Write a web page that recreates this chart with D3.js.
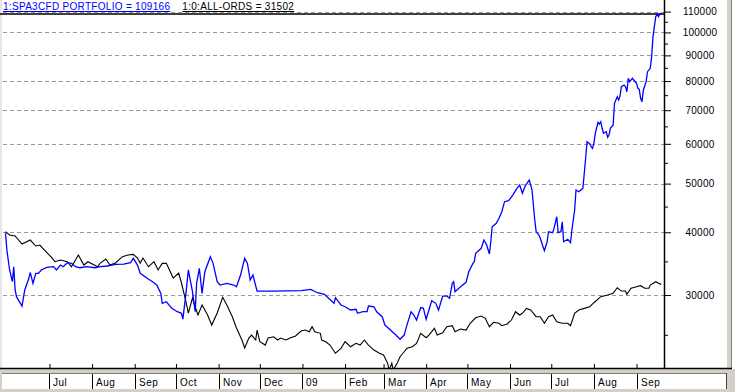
<!DOCTYPE html>
<html>
<head>
<meta charset="utf-8">
<script src="https://cdn.jsdelivr.net/npm/d3@7"></script>
<style>
  html, body { margin: 0; padding: 0; background: #ffffff; }
  svg { display: block; }
  text { font-family: "Liberation Sans", Arial, sans-serif; }
</style>
</head>
<body>
<div id="chart"></div>
<script>
// ---------------- DATA ----------------
// Days are offsets (calendar days) from 1 July 2008
const baseDate = new Date(2008, 6, 1);

const seriesNames = ["1:SPA3CFD PORTFOLIO", "1:0:ALL-ORDS"];
const lastValues = [109166, 31502];

const portfolioDays = [-32,-31,-29,-27,-26,-25,-24,-20,-18,-15,-14,-12,-10,-8,-6,-2,3,5,8,10,13,16,19,22,27,33,37,42,48,54,59,61,64,66,71,75,78,81,82,85,89,93,96,97,99,101,104,106,107,109,111,113,117,119,122,124,129,134,136,139,142,144,146,148,151,163,183,190,195,200,203,207,208,212,215,219,223,224,228,231,232,236,238,242,244,248,252,255,258,260,263,265,267,270,272,274,276,278,281,283,286,289,291,293,294,295,299,303,305,308,309,310,314,316,318,320,321,322,325,327,329,331,334,337,340,342,344,346,349,351,353,354,356,357,359,360,362,363,366,367,369,370,372,373,374,377,379,380,382,383,385,388,389,390,391,393,394,395,396,397,399,400,401,402,403,405,406,407,408,410,411,413,414,415,416,418,419,420,421,422,424,425,427,428,429,430,431,432,434,435,437,438,439,441,442,443,444,445];
const portfolioValues = [39810,36870,33650,31890,34160,30700,29770,28520,30700,32390,33290,31650,33140,33140,33650,34060,34160,33650,34420,34160,34790,34690,34160,34000,34160,34000,34160,34270,34530,34580,34790,35500,34420,33140,32390,31890,31410,30230,28880,29090,28220,27790,27590,26870,29770,33650,30460,27790,31650,33910,30230,33380,35760,34690,31890,31410,31650,31410,31160,32880,35500,34690,32140,32880,30550,30550,30600,30790,30320,30100,29550,28880,29630,28660,28430,28010,28100,27590,27790,27790,28520,28430,27790,27160,26140,25550,24970,24490,24970,26140,27790,27370,26750,28330,28220,26840,28010,29230,28880,28010,29860,29860,29550,31650,31890,30460,31160,31800,33380,34690,34950,36320,37160,38600,37730,36200,38300,41030,41680,42640,43950,46020,46230,47450,48930,49680,47820,49450,50830,48550,42310,40100,39500,38910,37440,36760,38300,40100,39920,40730,42960,39920,40100,41980,38300,38730,38130,40420,44300,48550,48170,48930,52420,56150,60590,59950,59220,58780,60140,62970,66220,65710,66410,64430,62970,63430,61830,62480,64430,65410,72250,74470,73350,74710,77970,78580,77970,76190,81030,79770,81030,80400,79190,77390,77040,73930,72790,76790,79770,83510,84830,89460,98060,107470,108810,107470,108700,109166];

const allOrdsDays = [-32,-29,-25,-20,-14,-10,-7,-5,1,4,8,13,16,21,25,28,35,37,41,44,48,53,57,61,64,66,68,72,76,79,82,85,90,94,96,99,101,104,106,108,111,115,118,122,126,129,133,136,140,142,145,147,150,151,153,157,159,163,166,168,172,175,179,183,186,189,191,193,197,198,201,204,208,212,215,219,223,226,229,232,236,240,243,246,247,249,250,253,255,258,260,264,267,270,274,276,280,282,286,289,293,295,299,303,306,310,314,317,320,323,327,329,333,336,339,342,344,347,350,354,357,360,363,366,369,373,377,379,382,385,389,393,396,401,406,410,413,416,419,420,423,427,430,433,436,437,441,443,445];
const allOrdsValues = [40100,39500,39320,37900,38600,37560,37730,37200,35760,34950,35220,34950,34160,36040,34420,34950,34160,34740,35380,34420,34740,35760,36040,36150,35550,34740,35550,34160,34950,33650,34690,34690,32430,33180,31700,29320,27620,29590,28430,27370,28660,27370,26140,27620,29690,28660,27160,25790,24410,23530,24630,24970,24410,25550,24220,23850,24630,24780,24410,24630,24410,24630,24860,25430,25550,25350,25940,25350,25170,24410,24220,23850,22970,23500,24220,23670,24040,23850,24410,23850,23310,22970,22790,21930,21270,21960,21270,21960,22610,23130,23500,23670,24040,25170,24670,24970,25750,24970,25240,25940,26060,25350,25670,25550,26350,27030,27250,26960,25940,26470,26350,26060,26270,26750,27790,27370,27590,28220,28010,27160,27160,26350,27160,27370,26540,26350,26350,26060,27590,28010,28220,28430,28960,29770,30000,30230,31020,30550,30550,30100,30940,31160,31310,30940,30940,31410,31890,31650,31502];

const monthLabels = ["Jul","Aug","Sep","Oct","Nov","Dec","09","Feb","Mar","Apr","May","Jun","Jul","Aug","Sep"];
const majorTicks = [30000,40000,50000,60000,70000,80000,90000,100000,110000];
const minorTicks = [25000,35000,45000,55000,65000,75000,85000,95000,105000];

// ---------------- LAYOUT ----------------
const W = 735, H = 392;
const plotLeft = 0, plotRight = 664, plotTop = 14, plotBottom = 368;

const svg = d3.select("#chart").append("svg")
  .attr("width", W).attr("height", H);

svg.append("rect").attr("x", 0).attr("y", 0).attr("width", W).attr("height", H).attr("fill", "#ffffff");

const x = d3.scaleTime()
  .domain([new Date(2008, 4, 26), new Date(2009, 8, 21)])
  .range([plotLeft, plotRight]);

const y = d3.scaleLog()
  .domain([21470, 108800])
  .range([plotBottom, plotTop]);

const toDate = d => d3.timeDay.offset(baseDate, d);

// left window strip
svg.append("rect").attr("x", 0).attr("y", 0).attr("width", 2).attr("height", H).attr("fill", "#e6e6e6");

// gridlines
svg.append("g").selectAll("line").data(majorTicks).join("line")
  .attr("x1", 3).attr("x2", plotRight)
  .attr("y1", d => Math.round(y(d)) + 0.5).attr("y2", d => Math.round(y(d)) + 0.5)
  .attr("stroke", "#9a9a9a").attr("stroke-width", 1).attr("stroke-dasharray", "4,3");

// title
const title = svg.append("text").attr("x", 3).attr("y", 10)
  .attr("font-size", 10).style("letter-spacing", "0.3px");
title.append("tspan").attr("fill", "#0000ff").style("text-decoration", "underline")
  .text(`${seriesNames[0]} = ${lastValues[0]}`);
title.append("tspan").attr("dx", 12).attr("fill", "#000000").style("text-decoration", "underline")
  .text(`${seriesNames[1]} = ${lastValues[1]}`);

// top rule
svg.append("line").attr("x1", 0).attr("x2", plotRight).attr("y1", 14).attr("y2", 14)
  .attr("stroke", "#000").attr("stroke-width", 1.5);

// clip
svg.append("clipPath").attr("id", "plotclip").append("rect")
  .attr("x", 2).attr("y", 0).attr("width", plotRight - 2).attr("height", plotBottom);

const line = d3.line().x(d => x(d[0])).y(d => y(d[1]));

const allOrds = allOrdsDays.map((d, i) => [toDate(d), allOrdsValues[i]]);
const portfolio = portfolioDays.map((d, i) => [toDate(d), portfolioValues[i]]);

const lines = svg.append("g").attr("clip-path", "url(#plotclip)");
lines.append("path").datum(allOrds).attr("d", line)
  .attr("fill", "none").attr("stroke", "#000000").attr("stroke-width", 1.1);
lines.append("path").datum(portfolio).attr("d", line)
  .attr("fill", "none").attr("stroke", "#0000ff").attr("stroke-width", 1.3);

// right axis
const axisMajor = svg.append("g").attr("transform", `translate(${plotRight},0)`)
  .call(d3.axisRight(y).tickValues(majorTicks).tickSize(7).tickFormat(d3.format("d")));
axisMajor.select(".domain").remove();
axisMajor.selectAll("line").attr("stroke", "#000");
axisMajor.selectAll("text")
  .attr("x", 36).attr("text-anchor", "middle")
  .attr("font-size", 10).attr("font-family", "Liberation Sans, Arial, sans-serif")
  .style("letter-spacing", "0.2px").attr("fill", "#000");

const axisMinor = svg.append("g").attr("transform", `translate(${plotRight},0)`)
  .call(d3.axisRight(y).tickValues(minorTicks).tickSize(4).tickFormat(""));
axisMinor.select(".domain").remove();
axisMinor.selectAll("line").attr("stroke", "#000");

// vertical axis line
svg.append("line").attr("x1", plotRight + 0.5).attr("x2", plotRight + 0.5).attr("y1", 0).attr("y2", plotBottom)
  .attr("stroke", "#000").attr("stroke-width", 1.5);

// right window border
svg.append("rect").attr("x", 727).attr("y", 0).attr("width", 5).attr("height", 370).attr("fill", "#d4d0c8");
svg.append("line").attr("x1", 731.5).attr("x2", 731.5).attr("y1", 0).attr("y2", 370).attr("stroke", "#808080");

// bottom panel
svg.append("rect").attr("x", 0).attr("y", 369).attr("width", W).attr("height", H - 369).attr("fill", "#d4d0c8");
svg.append("rect").attr("x", 2).attr("y", 373).attr("width", 724).attr("height", 16).attr("fill", "#ffffff");
svg.append("line").attr("x1", 2).attr("x2", 726).attr("y1", 373.5).attr("y2", 373.5).attr("stroke", "#808080");
svg.append("line").attr("x1", 726.5).attr("x2", 726.5).attr("y1", 373).attr("y2", 389).attr("stroke", "#404040");

// x axis line and ticks
svg.append("line").attr("x1", 0).attr("x2", 732).attr("y1", plotBottom + 0.5).attr("y2", plotBottom + 0.5)
  .attr("stroke", "#000").attr("stroke-width", 1.5);

const monthStarts = d3.timeMonth.range(new Date(2008, 6, 1), new Date(2009, 9, 1));
const xAxis = svg.append("g").attr("transform", `translate(0,${plotBottom})`)
  .call(d3.axisTop(x).tickValues(monthStarts).tickSize(4).tickFormat(""));
xAxis.select(".domain").remove();
xAxis.selectAll("line").attr("stroke", "#000");

const months = svg.append("g");
months.selectAll("line").data(monthStarts).join("line")
  .attr("x1", d => Math.round(x(d)) + 0.5).attr("x2", d => Math.round(x(d)) + 0.5)
  .attr("y1", 374).attr("y2", 389).attr("stroke", "#000");
months.selectAll("text").data(monthStarts).join("text")
  .attr("x", d => Math.round(x(d)) + 4).attr("y", 386)
  .attr("font-size", 10).style("letter-spacing", "0.5px").attr("fill", "#000")
  .text((d, i) => monthLabels[i]);
</script>
</body>
</html>
